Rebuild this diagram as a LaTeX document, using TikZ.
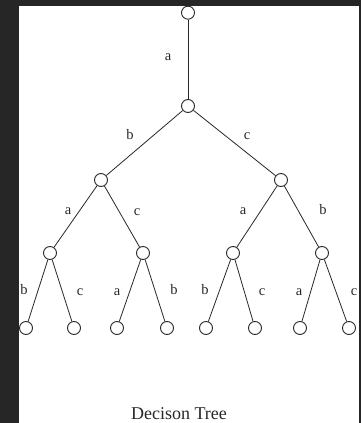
\documentclass[tikz,border=0pt]{standalone}
\usepackage{fontspec}
\setmainfont{Liberation Serif}
\definecolor{frame}{HTML}{262626}
\definecolor{ink}{HTML}{282828}
\tikzset{
  st/.style={circle, draw=ink, fill=white, line width=0.9pt, minimum size=13pt, inner sep=0pt},
  edge/.style={draw=ink, line width=0.8pt},
  lab/.style={inner sep=0pt, font=\fontsize{14.5}{14.5}\selectfont, text=ink},
}
\begin{document}
\begin{tikzpicture}[x=1pt, y=-1pt]
\useasboundingbox (0,0) rectangle (361,423);
\fill[frame] (0,0) rectangle (361,423);
\fill[white] (19,6) rectangle (359,423);
% nodes
\node[st] (r) at (188,12.7) {};
\node[st] (n) at (188,106) {};
\node[st] (L) at (101,180) {};
\node[st] (R) at (281,180) {};
\node[st] (LL) at (50,253) {};
\node[st] (LR) at (143,253) {};
\node[st] (RL) at (233,253) {};
\node[st] (RR) at (322,253) {};
\node[st] (l1) at (26,328) {};
\node[st] (l2) at (74,328) {};
\node[st] (l3) at (117,328) {};
\node[st] (l4) at (167,328) {};
\node[st] (l5) at (206,328) {};
\node[st] (l6) at (255,328) {};
\node[st] (l7) at (300,328) {};
\node[st] (l8) at (349,328) {};
% edges
\draw[edge] (r) -- (n);
\draw[edge] (n) -- (L);
\draw[edge] (n) -- (R);
\draw[edge] (L) -- (LL);
\draw[edge] (L) -- (LR);
\draw[edge] (R) -- (RL);
\draw[edge] (R) -- (RR);
\draw[edge] (LL) -- (l1);
\draw[edge] (LL) -- (l2);
\draw[edge] (LR) -- (l3);
\draw[edge] (LR) -- (l4);
\draw[edge] (RL) -- (l5);
\draw[edge] (RL) -- (l6);
\draw[edge] (RR) -- (l7);
\draw[edge] (RR) -- (l8);
% labels
\node[lab] (t1) at (168,57) {a};
\node[lab] (t2) at (130,135) {b};
\node[lab] (t3) at (247,136) {c};
\node[lab] (t4) at (68,211) {a};
\node[lab] (t5) at (137,212) {c};
\node[lab] (t6) at (243,211) {a};
\node[lab] (t7) at (323,210) {b};
\node[lab] (t8) at (24,290) {b};
\node[lab] (t9) at (80,292) {c};
\node[lab] (t10) at (117,292) {a};
\node[lab] (t11) at (174,290) {b};
\node[lab] (t12) at (205,290) {b};
\node[lab] (t13) at (262,292) {c};
\node[lab] (t14) at (299,292) {a};
\node[lab] (t15) at (354,292) {c};
\node[lab, font=\fontsize{18}{18}\selectfont, anchor=base] (cap) at (179,419) {Decison Tree};
\end{tikzpicture}
\end{document}
